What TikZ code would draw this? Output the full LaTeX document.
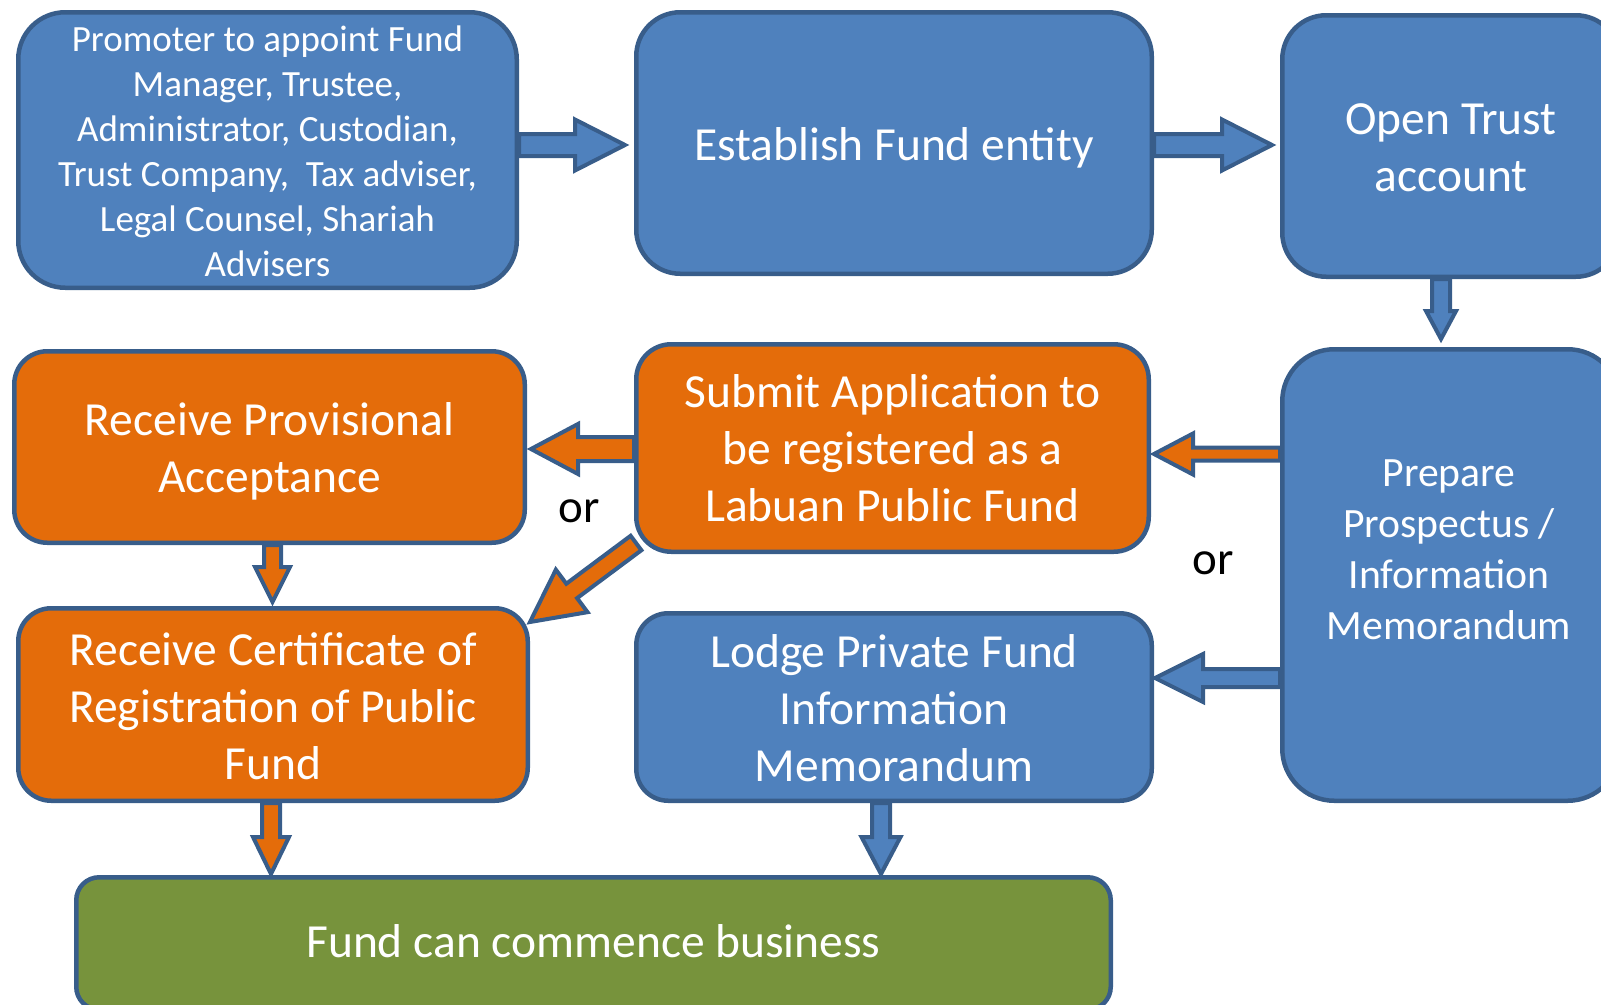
\documentclass[tikz,border=0pt]{standalone}
\usepackage{fontspec}
\setmainfont{Carlito}
\usetikzlibrary{calc}

\definecolor{boxblue}{HTML}{4F81BD}
\definecolor{edgeblue}{HTML}{385D8A}
\definecolor{boxorange}{HTML}{E46C0A}
\definecolor{boxgreen}{HTML}{77933C}

\tikzset{
  card/.style={draw=edgeblue, line width=4.5pt, inner sep=0pt},
  bluecard/.style={card, fill=boxblue},
  orangecard/.style={card, fill=boxorange},
  greencard/.style={card, fill=boxgreen},
  cardtext/.style={text=white, align=center, inner sep=0pt,
    font=\fontsize{47.5}{57}\selectfont},
  ortext/.style={text=black, inner sep=0pt, font=\fontsize{47}{56}\selectfont},
  flowarrow/.style={draw=edgeblue, line width=4pt, line join=miter, miter limit=10},
}

% block arrow: #1 start, #2 tip, #3 shaft half-width, #4 head half-width,
% #5 head length, #6 fill colour
\newcommand\blockarrow[6]{%
  \path[flowarrow, fill=#6]
    let \p1=(#1), \p2=(#2),
        \n1={atan2(\y2-\y1,\x2-\x1)},
        \n2={veclen(\x2-\x1,\y2-\y1)} in
    ($(\p1)+(\n1+90:#3)$)
    -- ($(\p1)+(\n1:{\n2-#5})+(\n1+90:#3)$)
    -- ($(\p1)+(\n1:{\n2-#5})+(\n1+90:#4)$)
    -- (\p2)
    -- ($(\p1)+(\n1:{\n2-#5})+(\n1-90:#4)$)
    -- ($(\p1)+(\n1:{\n2-#5})+(\n1-90:#3)$)
    -- ($(\p1)+(\n1-90:#3)$)
    -- cycle;
}

\begin{document}
\begin{tikzpicture}[x=1pt, y=1pt]
\useasboundingbox (0,0) rectangle (1601,-1004);
\clip (0,0) rectangle (1601,-1004);

% top row
\node[bluecard, minimum width=498.5pt, minimum height=275.5pt, rounded corners=47pt]
  (promoter) at (267.5,-150) {};
\node[cardtext, font=\fontsize{37}{45}\selectfont] (promoter-text) at (267.5,-151)
  {Promoter to appoint Fund\\ Manager, Trustee,\\ Administrator, Custodian,\\
   Trust Company,\ \ Tax adviser,\\ Legal Counsel, Shariah\\ Advisers};
\node[bluecard, minimum width=515.5pt, minimum height=261.5pt, rounded corners=44pt]
  (establish) at (894,-143) {};
\node[cardtext] (establish-text) at (894,-148) {Establish Fund entity};
\node[bluecard, minimum width=337.5pt, minimum height=261.5pt, rounded corners=44pt]
  (opentrust) at (1451,-146) {};
\node[cardtext] (opentrust-text) at (1451,-148) {Open Trust\\ account};

% middle rows
\node[bluecard, minimum width=337.5pt, minimum height=451.5pt, rounded corners=52pt]
  (prepare) at (1451,-575) {};
\node[cardtext, font=\fontsize{41.7}{51}\selectfont] (prepare-text) at (1449,-550)
  {Prepare\\ Prospectus /\\ Information\\ Memorandum};
\node[orangecard, minimum width=512.5pt, minimum height=207.5pt, rounded corners=35pt]
  (submit) at (892.5,-448) {};
\node[cardtext] (submit-text) at (892.5,-448)
  {Submit Application to\\ be registered as a\\ Labuan Public Fund};
\node[orangecard, minimum width=510.5pt, minimum height=191.5pt, rounded corners=33pt]
  (provisional) at (269.5,-447) {};
\node[cardtext] (provisional-text) at (269.5,-451) {Receive Provisional\\ Acceptance};
\node[orangecard, minimum width=509.5pt, minimum height=192.5pt, rounded corners=33pt]
  (certificate) at (273,-704.5) {};
\node[cardtext] (certificate-text) at (273,-706.5)
  {Receive Certificate of\\ Registration of Public\\ Fund};
\node[bluecard, minimum width=515.5pt, minimum height=187.5pt, rounded corners=32pt]
  (lodge) at (894,-707) {};
\node[cardtext] (lodge-text) at (894,-708)
  {Lodge Private Fund\\ Information\\ Memorandum};

% bottom bar
\node[greencard, minimum width=1034.5pt, minimum height=132.5pt, rounded corners=23pt]
  (fund) at (593.5,-943.5) {};
\node[cardtext] (fund-text) at (593.5,-941.5) {Fund can commence business};

% alternatives
\node[ortext] (or-left) at (579,-511) {or};
\node[ortext] (or-right) at (1213,-563) {or};

% connectors
\blockarrow{$(promoter.east)+(0,5)$}{$(establish.west)+(-9,-2)$}{11}{25.5}{50}{boxblue}
\blockarrow{$(establish.east)+(0,-2)$}{$(opentrust.west)+(-8,1)$}{11}{25.5}{50}{boxblue}
\blockarrow{$(opentrust.south)+(-10,0)$}{$(prepare.north)+(-10,8)$}{9}{15}{28}{boxblue}
\blockarrow{$(prepare.west)+(0,121)$}{$(submit.east)+(3,-6)$}{6.5}{20.5}{39}{boxorange}
\blockarrow{$(prepare.west)+(0,-103)$}{$(lodge.east)+(1,29)$}{9}{24}{48}{boxblue}
\blockarrow{$(submit.west)+(0,-1)$}{$(provisional.east)+(4,-2)$}{12}{25}{47}{boxorange}
\blockarrow{$(submit.south west)+(2,11)$}{$(certificate.north east)+(0,-16)$}{9}{26.5}{52}{boxorange}
\blockarrow{$(provisional.south)+(3,0)$}{$(certificate.north)+(-0.5,4)$}{8.5}{17.5}{35}{boxorange}
\blockarrow{$(certificate.south)+(-2,0)$}{$(fund.north)+(-322.5,1)$}{9}{18}{37}{boxorange}
\blockarrow{$(lodge.south)+(-13,0)$}{$(fund.north)+(287.5,1)$}{9}{19.5}{37}{boxblue}
\end{tikzpicture}
\end{document}
